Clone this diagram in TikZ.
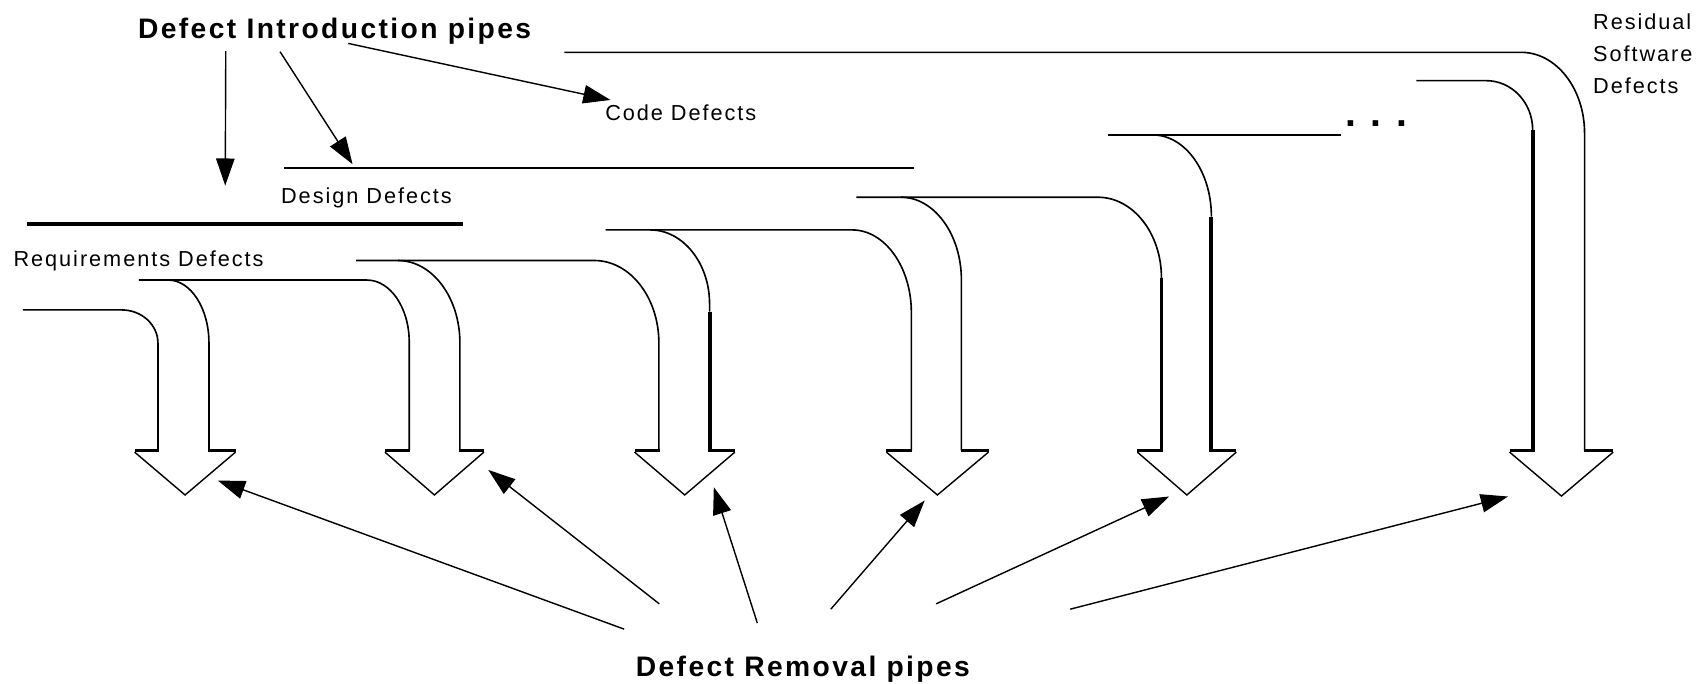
\documentclass[tikz,border=0pt]{standalone}
\usepackage{fontspec}
\setmainfont{Liberation Sans}
\newfontfamily\labfont[LetterSpace=9]{Liberation Sans}
\newfontfamily\titfont[LetterSpace=8.5]{Liberation Sans}
\usetikzlibrary{arrows.meta}
\begin{document}
\begin{tikzpicture}[x=1pt,y=-1pt]
\tikzset{
 pipe/.style={line width=1.5pt},
 heavy/.style={line width=3.6pt},
 flange/.style={line width=3.6pt},
 tipline/.style={line width=1.3pt, line join=miter},
 ptr/.style={line width=1.3pt, -{Triangle[length=25pt,width=17pt]}},
 lab/.style={font=\labfont\fontsize{20}{24}\selectfont, inner sep=0pt, anchor=base west},
 ttl/.style={font=\titfont\bfseries\fontsize{26}{30}\selectfont, inner sep=0pt, anchor=base west},
}
\fill[white] (0,0) rectangle (1568,630);
\useasboundingbox (0,0) rectangle (1568,630);

% labels
\node[ttl] (intro) at (127,35.3) {Defect Introduction pipes};
\node[ttl] (removal) at (585.6,623) {Defect Removal pipes};
\node[lab] (code) at (557.4,111.2) {Code Defects};
\node[lab] (design) at (258.8,187.9) {Design Defects};
\node[lab] (req) at (12.3,245.6) {Requirements Defects};
\node[lab, anchor=north west, align=left, font=\labfont\fontsize{20}{29.5}\selectfont] (resid) at (1467.5,12.3) {Residual\\Software\\Defects};
\node[font=\bfseries\fontsize{36}{40}\selectfont, inner sep=0pt, anchor=base] (dots) at (1268,116.5) {. . .};

% introduction lines
\draw[heavy] (25,206.3) -- (426.5,206.3);
\draw[pipe] (262,155) -- (841.6,155);

% pipe 1
\draw[pipe] (21,285.5) -- (112,285.5) .. controls (130.5,285.5) and (145.5,299.2) .. (145.5,316) -- (145.5,415);
\draw[flange] (124,415) -- (146.3,415);
\draw[pipe] (128,258) -- (338,258) .. controls (359.5,258) and (377,283.5) .. (377,315) -- (377,415);
\draw[pipe] (155,258) .. controls (175.7,258) and (192.5,284) .. (192.5,316) -- (192.5,415);
\draw[flange] (191.8,415) -- (217,415);
\draw[tipline] (124,416.5) -- (170.5,456) -- (217,416.5);

% pipe 2
\draw[flange] (354.6,415) -- (377.7,415);
\draw[pipe] (366.6,240) .. controls (398.1,240) and (423.7,274) .. (423.7,316) -- (423.7,415);
\draw[flange] (423,415) -- (445.8,415);
\draw[pipe] (328,240) -- (547.6,240) .. controls (580.4,240) and (607,274) .. (607,316) -- (607,415);
\draw[tipline] (354.6,416.5) -- (400.2,456) -- (445.8,416.5);

% pipe 3
\draw[flange] (584.6,415) -- (607.7,415);
\draw[pipe] (558,211.8) -- (785,211.8) .. controls (815.1,211.8) and (839.6,245.9) .. (839.6,288) -- (839.6,415);
\draw[pipe] (599,211.8) .. controls (629.2,211.8) and (653.7,242.4) .. (653.7,280) -- (653.7,287);
\draw[heavy] (653.7,287) -- (653.7,415);
\draw[flange] (652,415) -- (677,415);
\draw[tipline] (584.6,416.5) -- (630.8,456) -- (677,416.5);

% pipe 4
\draw[flange] (816.6,415) -- (840.3,415);
\draw[pipe] (789,181.7) -- (1011.5,181.7) .. controls (1043.8,181.7) and (1070,215) .. (1070,256);
\draw[heavy] (1070,256) -- (1070,415);
\draw[pipe] (830,181.7) .. controls (860.7,181.7) and (885.7,215.9) .. (885.7,258) -- (885.7,415);
\draw[flange] (885,415) -- (910.7,415);
\draw[tipline] (816.6,416.5) -- (863.6,456) -- (910.7,416.5);

% pipe 5
\draw[flange] (1047.8,415) -- (1071.8,415);
\draw[pipe] (1020.7,124.3) -- (1235.7,124.3);
\draw[pipe] (1062,124.3) .. controls (1091.8,124.3) and (1116,158) .. (1116,199.5);
\draw[heavy] (1116,199.5) -- (1116,415);
\draw[flange] (1114.2,415) -- (1139,415);
\draw[tipline] (1047.8,416.5) -- (1093.4,456) -- (1139,416.5);

% pipe 6 (residual)
\draw[pipe] (1304.8,74.3) -- (1369.2,74.3) .. controls (1392.8,74.3) and (1412,94.6) .. (1412,119.7);
\draw[heavy] (1412,119.7) -- (1412,415);
\draw[flange] (1390.7,415) -- (1413.8,415);
\draw[pipe] (520,48.2) -- (1401.4,48.2) .. controls (1433.6,48.2) and (1459.8,81.6) .. (1459.8,122.8) -- (1459.8,415);
\draw[flange] (1459,415) -- (1486.2,415);
\draw[tipline] (1390.7,416.5) -- (1438.5,457) -- (1486.2,416.5);

% pointer coordinates
\coordinate (a1s) at (208,47);
\coordinate (a1e) at (207.5,171);
\coordinate (a2s) at (258,47.6);
\coordinate (a2e) at (324.8,151.3);
\coordinate (a3s) at (320.8,40);
\coordinate (a3e) at (562.4,92.1);
\coordinate (b1s) at (575,579.6);
\coordinate (b1e) at (200.7,442.7);
\coordinate (b2s) at (607.4,556.3);
\coordinate (b2e) at (449.8,432.9);
\coordinate (b3s) at (697.7,574);
\coordinate (b3e) at (657.6,448.8);
\coordinate (b4s) at (765.4,561.2);
\coordinate (b4e) at (851.9,461.1);
\coordinate (b5s) at (862.4,556.3);
\coordinate (b5e) at (1077.2,457.4);
\coordinate (b6s) at (986,561.2);
\coordinate (b6e) at (1389.2,457.4);

\draw[ptr] (a1s) -- (a1e);
\draw[ptr] (a2s) -- (a2e);
\draw[ptr] (a3s) -- (a3e);
\draw[ptr] (b1s) -- (b1e);
\draw[ptr] (b2s) -- (b2e);
\draw[ptr] (b3s) -- (b3e);
\draw[ptr] (b4s) -- (b4e);
\draw[ptr] (b5s) -- (b5e);
\draw[ptr] (b6s) -- (b6e);
\end{tikzpicture}
\end{document}
